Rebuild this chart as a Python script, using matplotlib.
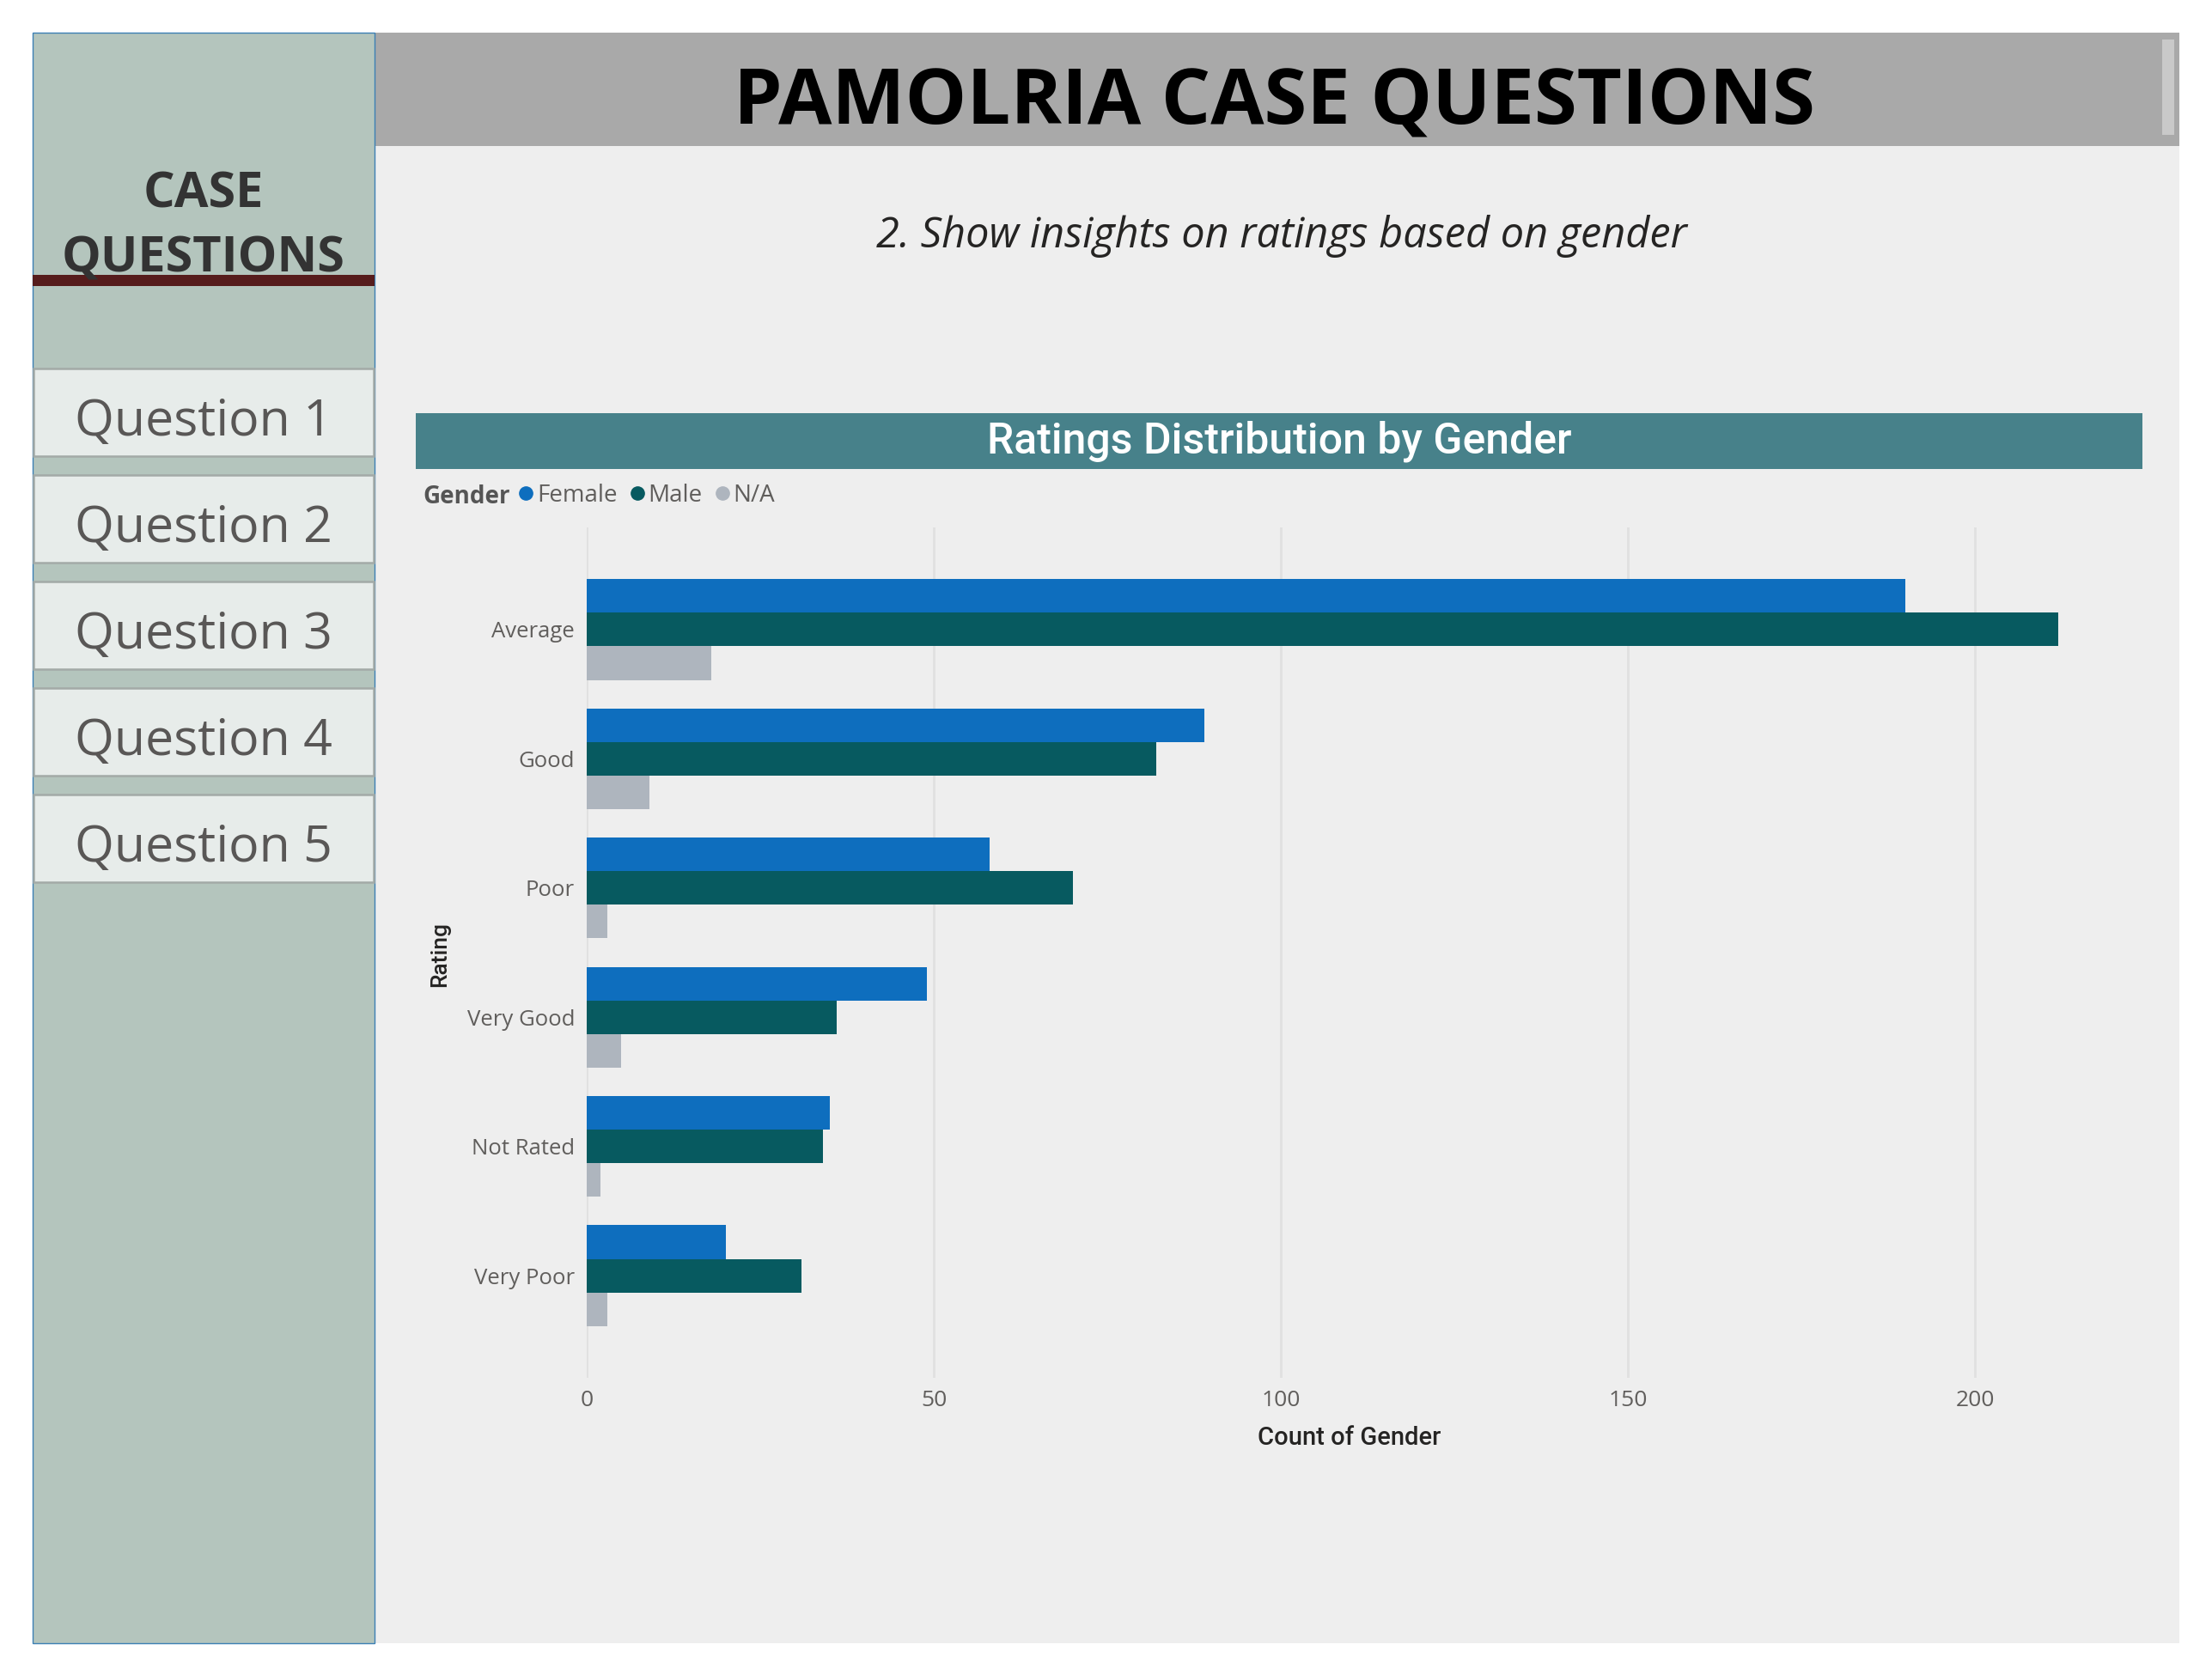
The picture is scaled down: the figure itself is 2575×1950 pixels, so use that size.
import matplotlib.pyplot as plt
import numpy as np
from matplotlib.patches import Rectangle
from matplotlib.lines import Line2D

ratings = ['Average', 'Good', 'Poor', 'Very Good', 'Not Rated', 'Very Poor']
female = [190, 89, 58, 49, 35, 20]
male = [212, 82, 70, 36, 34, 31]
na = [18, 9, 3, 5, 2, 3]
genders = ['Female', 'Male', 'N/A']
gender_colors = ['#0e6ebe', '#075a60', '#aeb5be']
xticks = [0, 50, 100, 150, 200]
questions = ['Question 1', 'Question 2', 'Question 3', 'Question 4', 'Question 5']

W, H = 2575, 1950
fig = plt.figure(figsize=(W / 100, H / 100), dpi=100)
fig.patch.set_facecolor('white')

# background layer in pixel coords
bg = fig.add_axes([0, 0, 1, 1])
bg.set_xlim(0, W)
bg.set_ylim(H, 0)
bg.axis('off')

# main canvas + header
bg.add_patch(Rectangle((436, 38), 2101, 1875, facecolor='#eeeeee', edgecolor='none'))
bg.add_patch(Rectangle((436, 38), 2101, 132, facecolor='#a9a9a9', edgecolor='none'))
bg.add_patch(Rectangle((2517, 46), 14, 111, facecolor='#c9c9c9', edgecolor='none'))
bg.text(1483, 145, 'PAMOLRIA CASE QUESTIONS', fontsize=65, fontweight='bold',
        family='Open Sans', color='black', ha='center', va='baseline')
bg.text(1492, 288, '2. Show insights on ratings based on gender', fontsize=35,
        style='italic', family='Open Sans', color='#252423', ha='center', va='baseline')

# left side panel
bg.add_patch(Rectangle((38, 38), 398, 1875, facecolor='#b4c5bd', edgecolor='#3c80b4', lw=1))
bg.text(237, 241, 'CASE', fontsize=41.5, fontweight='bold', family='Open Sans',
        color='#333333', ha='center', va='baseline')
bg.text(237, 317, 'QUESTIONS', fontsize=41.5, fontweight='bold', family='Open Sans',
        color='#333333', ha='center', va='baseline')
bg.add_patch(Rectangle((38, 320), 398, 13, facecolor='#561c1c', edgecolor='none'))
for i, q in enumerate(questions):
    top = 429 + 124 * i
    bg.add_patch(Rectangle((39, top), 396, 102, facecolor='#e7ecea',
                           edgecolor='#a3aaa7', lw=1.8))
    bg.text(237, top + 78, q, fontsize=42.5, family='Open Sans', color='#595756',
            ha='center', va='baseline')

# chart title bar
bg.add_patch(Rectangle((484, 481), 2010, 65, facecolor='#47818a', edgecolor='none'))
bg.text(1489, 528, 'Ratings Distribution by Gender', fontsize=36, family='Roboto',
        fontweight='medium', color='white', ha='center', va='baseline')

# legend
bg.text(492, 586, 'Gender', fontsize=20, fontweight='bold', family='Open Sans',
        color='#555555', ha='left', va='baseline')
handles = [Line2D([], [], marker='o', ls='none', markersize=11, color=c) for c in gender_colors]
fig.legend(handles, genders, loc='center left', bbox_to_anchor=(604 / W, 1 - 577 / H),
           ncol=3, frameon=False, borderpad=0, borderaxespad=0, handlelength=0.6,
           handletextpad=0.15, columnspacing=0.55,
           prop={'family': 'Open Sans', 'size': 20}, labelcolor='#605e5c')

# bar chart
x0, x1, y0, y1 = 683, 2493, 614, 1604
ax = fig.add_axes([x0 / W, 1 - y1 / H, (x1 - x0) / W, (y1 - y0) / H])
ax.set_facecolor('none')
y = np.arange(len(ratings))
h = 0.26
for vals, off, col, lab in zip([female, male, na], [-h, 0, h], gender_colors, genders):
    ax.barh(y + off, vals, height=h, color=col, label=lab, zorder=3)

ax.set_xlim(0, 224)
ax.set_ylim(5.79, -0.79)
ax.set_xticks(xticks)
ax.set_yticks(y)
ax.set_yticklabels(ratings)
ax.grid(axis='x', color='#e0e0e0', linewidth=2, zorder=0)
ax.grid(axis='y', visible=False)
for s in ax.spines.values():
    s.set_visible(False)
ax.tick_params(axis='both', length=0, colors='#605e5c', labelsize=19, pad=10)
for t in ax.get_xticklabels() + ax.get_yticklabels():
    t.set_family('Open Sans')
ax.tick_params(axis='y', labelsize=18.5, pad=10)

ax.set_xlabel('Count of Gender', fontsize=21, family='Roboto', fontweight='medium',
              color='#252423')
ax.xaxis.set_label_coords((1571 - x0) / (x1 - x0), -(1660 - y1) / (y1 - y0))
ax.set_ylabel('Rating', fontsize=19, family='Roboto', fontweight='medium', color='#252423')
ax.yaxis.set_label_coords(-(683 - 524) / (x1 - x0), (y1 - 1111) / (y1 - y0))

fig.savefig('out.png', dpi=100, facecolor=fig.get_facecolor())
